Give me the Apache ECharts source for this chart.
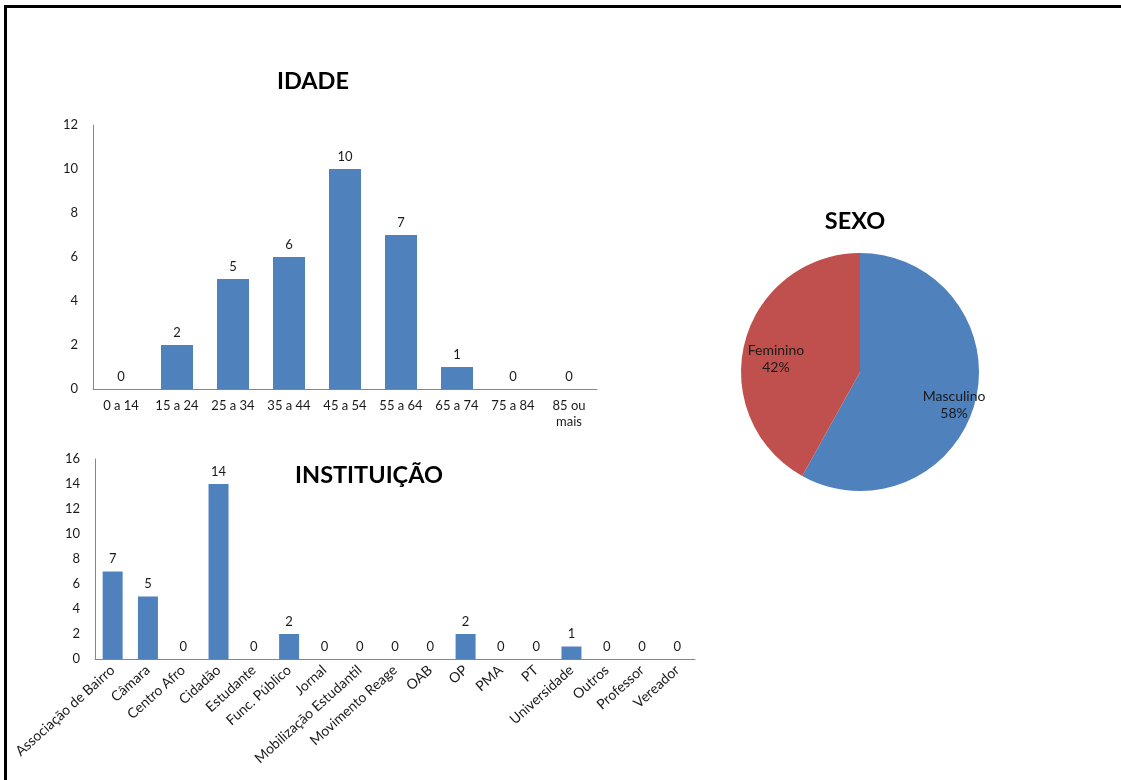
<!DOCTYPE html>
<html>
<head>
<meta charset="utf-8">
<script src="https://cdn.jsdelivr.net/npm/echarts@6/dist/echarts.min.js"></script>
<style>
html,body{margin:0;padding:0;background:#fff;}
#frame{position:absolute;left:4px;top:5px;width:1117px;height:775px;border-top:3px solid #000;border-left:3px solid #000;box-sizing:border-box;}
#chart{position:absolute;left:0;top:0;width:1121px;height:780px;}
</style>
</head>
<body>
<div id="chart"></div>
<div id="frame"></div>
<script>
// ---- data ----
var idadeCategories = ['0 a 14','15 a 24','25 a 34','35 a 44','45 a 54','55 a 64','65 a 74','75 a 84','85 ou\nmais'];
var idadeValues = [0, 2, 5, 6, 10, 7, 1, 0, 0];

var instCategories = ['Associação de Bairro','Câmara','Centro Afro','Cidadão','Estudante','Func. Público','Jornal','Mobilização Estudantil','Movimento Reage','OAB','OP','PMA','PT','Universidade','Outros','Professor','Vereador'];
var instValues = [7, 5, 0, 14, 0, 2, 0, 0, 0, 0, 2, 0, 0, 1, 0, 0, 0];

var sexoNames = ['Masculino','Feminino'];
var sexoValues = [18, 13];

var titles = ['IDADE','INSTITUIÇÃO','SEXO'];

// ---- chart ----
var FONT = 'Lato, "Open Sans", sans-serif';
var TXT = '#1a1a1a';
var AXIS = '#868686';
var BLUE = '#4F81BD';
var RED = '#C0504D';

var chart = echarts.init(document.getElementById('chart'), null, {renderer:'canvas'});

var pieData = sexoNames.map(function(n,i){ return {name:n, value:sexoValues[i]}; });

var option = {
  animation:false,
  textStyle:{fontFamily:FONT},
  graphic:[
    {type:'text', x:313, y:81, style:{text:titles[0], font:'bold 23.5px '+FONT, fill:'#000', align:'center', verticalAlign:'middle'}},
    {type:'text', x:369, y:475, style:{text:titles[1], font:'bold 23.5px '+FONT, fill:'#000', align:'center', verticalAlign:'middle'}},
    {type:'text', x:855, y:221, style:{text:titles[2], font:'bold 23.5px '+FONT, fill:'#000', align:'center', verticalAlign:'middle'}}
  ],
  grid:[
    {left:93, top:125, width:504, height:264},
    {left:95, top:459, width:600, height:200}
  ],
  xAxis:[
    {type:'category', gridIndex:0, data:idadeCategories,
     axisLine:{lineStyle:{color:AXIS}}, axisTick:{show:false},
     axisLabel:{interval:0, color:TXT, fontSize:13, margin:9, fontFamily:FONT, lineHeight:16}},
    {type:'category', gridIndex:1, data:instCategories,
     axisLine:{lineStyle:{color:AXIS}}, axisTick:{show:false},
     axisLabel:{interval:0, rotate:42, color:TXT, fontSize:14, margin:9, fontFamily:FONT}}
  ],
  yAxis:[
    {type:'value', gridIndex:0, min:0, max:12, interval:2,
     axisLine:{show:true, lineStyle:{color:AXIS}}, axisTick:{show:false}, splitLine:{show:false},
     axisLabel:{color:TXT, fontSize:13, margin:15, fontFamily:FONT}},
    {type:'value', gridIndex:1, min:0, max:16, interval:2,
     axisLine:{show:true, lineStyle:{color:AXIS}}, axisTick:{show:false}, splitLine:{show:false},
     axisLabel:{color:TXT, fontSize:13, margin:15, fontFamily:FONT}}
  ],
  series:[
    {type:'bar', xAxisIndex:0, yAxisIndex:0, data:idadeValues, barWidth:32,
     itemStyle:{color:BLUE},
     label:{show:true, position:'top', distance:6, color:TXT, fontSize:13, fontFamily:FONT}},
    {type:'bar', xAxisIndex:1, yAxisIndex:1, data:instValues, barWidth:20,
     itemStyle:{color:BLUE},
     label:{show:true, position:'top', distance:6, color:TXT, fontSize:13, fontFamily:FONT}},
    {type:'pie', center:[860,372], radius:119, startAngle:90, clockwise:true,
     data:pieData, color:[BLUE, RED], silent:true,
     itemStyle:{borderWidth:0},
     label:{show:false}, labelLine:{show:false}},
    {type:'pie', center:[860,372], radius:178, startAngle:90, clockwise:true,
     data:pieData, silent:true,
     itemStyle:{color:'rgba(0,0,0,0)', borderWidth:0},
     label:{show:true, position:'inside', offset:[5,10], color:TXT, fontSize:14, fontFamily:FONT, lineHeight:17,
       formatter:function(p){ return p.name + '\n' + Math.round(p.percent) + '%'; }},
     labelLine:{show:false}}
  ]
};
chart.setOption(option);
</script>
</body>
</html>
